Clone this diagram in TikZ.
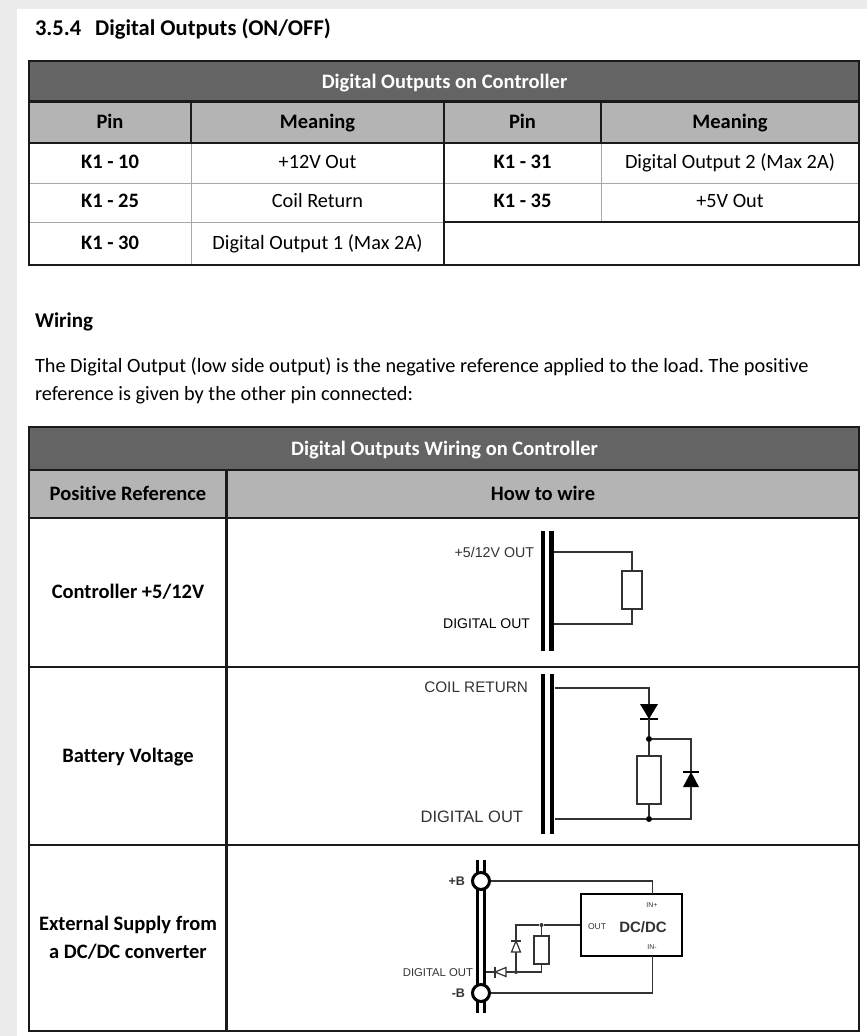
\documentclass[tikz,border=0pt]{standalone}
\usepackage{fontspec}
\setmainfont[Ligatures=NoCommon]{Carlito}
\newfontfamily\arl{Liberation Sans}
\definecolor{darkhead}{HTML}{646464}
\definecolor{lighthead}{HTML}{B4B4B4}
\definecolor{pagegray}{HTML}{ECECEC}
\definecolor{rule}{HTML}{1A1A1A}
\definecolor{thinrule}{HTML}{A8A8A8}
\definecolor{wire}{HTML}{333333}
\definecolor{lbl}{HTML}{333333}
\frenchspacing
\begin{document}
\begin{tikzpicture}[x=1pt,y=-1pt,
  tx/.style={inner sep=0pt,outer sep=0pt},
  body/.style={tx,font=\fontsize{20.3}{24}\selectfont},
  cell/.style={tx,font=\fontsize{20.3}{24}\selectfont},
  bcell/.style={tx,font=\fontsize{20.5}{24}\selectfont\bfseries},
  hcell/.style={tx,font=\fontsize{20.5}{24}\selectfont\bfseries,text=white},
  thick rule/.style={draw=rule,line width=2.3pt},
  thin rule/.style={draw=thinrule,line width=1pt},
  bar/.style={line width=4.4pt,draw=black},
  wr/.style={draw=wire,line width=1.3pt},
  res/.style={draw=wire,line width=1.4pt,fill=white},
  cl/.style={tx,text=lbl},
  dot/.style={circle,fill=black,inner sep=0pt,minimum size=6pt},
  sdot/.style={circle,fill=wire,inner sep=0pt,minimum size=4pt},
]
\useasboundingbox (0,0) rectangle (867,1036);
\fill[pagegray] (0,0) rectangle (867,1036);
\fill[white] (17,9) rectangle (867,1036);

% ---- title
\node[tx,anchor=base west,font=\fontsize{22.5}{27}\selectfont\bfseries] (title) at (35,35) {3.5.4\hspace{14pt}Digital Outputs (ON/OFF)};

% ---- table 1
\fill[darkhead] (29,61) rectangle (859,101.5);
\fill[lighthead] (29,101.5) rectangle (859,143);
\draw[thin rule] (191,143) -- (191,265);
\draw[thin rule] (601,143) -- (601,222);
\draw[thin rule] (29,183) -- (859,183);
\draw[thin rule] (29,222) -- (444,222);
\draw[thick rule] (444,222) -- (859,222);
\draw[thick rule] (444,101.5) -- (444,265);
\draw[thick rule] (191,101.5) -- (191,143);
\draw[thick rule] (601,101.5) -- (601,143);
\draw[thick rule] (29,101.5) -- (859,101.5);
\draw[thick rule] (29,143) -- (859,143);
\draw[thick rule] (29,61) rectangle (859,265);

\node[hcell,anchor=base] (t1h) at (444.5,88) {Digital Outputs on Controller};
\node[bcell,anchor=base] (t1p1) at (110,128.5) {Pin};
\node[bcell,anchor=base] (t1m1) at (317.5,128.5) {Meaning};
\node[bcell,anchor=base] (t1p2) at (522.5,128.5) {Pin};
\node[bcell,anchor=base] (t1m2) at (730,128.5) {Meaning};
\node[bcell,anchor=base] (k10) at (110,168.5) {K1 - 10};
\node[cell,anchor=base] (m10) at (317.5,168.5) {+12V Out};
\node[bcell,anchor=base] (k31) at (522.5,168.5) {K1 - 31};
\node[cell,anchor=base] (m31) at (730,168.5) {Digital Output 2 (Max 2A)};
\node[bcell,anchor=base] (k25) at (110,207.5) {K1 - 25};
\node[cell,anchor=base] (m25) at (317.5,207.5) {Coil Return};
\node[bcell,anchor=base] (k35) at (522.5,207.5) {K1 - 35};
\node[cell,anchor=base] (m35) at (730,207.5) {+5V Out};
\node[bcell,anchor=base] (k30) at (110,249.5) {K1 - 30};
\node[cell,anchor=base] (m30) at (317.5,249.5) {Digital Output 1 (Max 2A)};

% ---- wiring text
\node[tx,anchor=base west,font=\fontsize{21}{25}\selectfont\bfseries] (wiring) at (35,327) {Wiring};
\node[body,anchor=base west] (para1) at (35,372.5) {The Digital Output (low side output) is the negative reference applied to the load. The positive};
\node[body,anchor=base west] (para2) at (35,400.5) {reference is given by the other pin connected:};

% ---- table 2
\fill[darkhead] (29,427) rectangle (859,470);
\fill[lighthead] (29,470) rectangle (859,518);
\draw[thick rule] (29,470) -- (859,470);
\draw[thick rule] (29,518) -- (859,518);
\draw[thick rule] (29,667) -- (859,667);
\draw[thick rule] (29,845) -- (859,845);
\draw[thick rule] (226.5,470) -- (226.5,1031);
\draw[thick rule] (29,427) rectangle (859,1031);

\node[hcell,anchor=base] (t2h) at (444.5,455) {Digital Outputs Wiring on Controller};
\node[bcell,anchor=base] (t2a) at (128,500.5) {Positive Reference};
\node[bcell,anchor=base] (t2b) at (543,500.5) {How to wire};
\node[bcell,anchor=base] (r1) at (128,598.5) {Controller +5/12V};
\node[bcell,anchor=base] (r2) at (128,762.5) {Battery Voltage};
\node[bcell,anchor=base] (r3a) at (128,930.5) {External Supply from};
\node[bcell,anchor=base] (r3b) at (128,958.5) {a DC/DC converter};

% ---- circuit 1
\draw[bar] (542.8,531) -- (542.8,651);
\draw[bar] (551.6,531) -- (551.6,651);
\node[cl,anchor=base east,font=\arl\fontsize{14.2}{16}\selectfont] (l1a) at (534,557) {+5/12V OUT};
\node[cl,anchor=base east,font=\arl\fontsize{14}{16}\selectfont,text=black] (l1b) at (530,628.5) {DIGITAL OUT};
\coordinate (a1) at (554,552);
\coordinate (a2) at (632,552);
\coordinate (a3) at (632,624);
\coordinate (a4) at (554,624);
\node[res,minimum width=20pt,minimum height=38pt,inner sep=0pt,rectangle] (R1) at (632,590) {};
\draw[wr] (a1) -- (a2) -- (R1.north);
\draw[wr] (R1.south) -- (a3) -- (a4);

% ---- circuit 2
\draw[bar] (542.8,674) -- (542.8,834);
\draw[bar] (552,674) -- (552,834);
\node[cl,anchor=base east,font=\arl\fontsize{15.3}{18}\selectfont] (l2a) at (528,692.5) {COIL RETURN};
\node[cl,anchor=base east,font=\arl\fontsize{16.5}{19}\selectfont] (l2b) at (523,822) {DIGITAL OUT};
\coordinate (b1) at (554.5,688);
\coordinate (b2) at (649,688);
\coordinate (d1t) at (649,704);
\coordinate (d1b) at (649,719);
\node[dot] (j1) at (649,739) {};
\node[dot] (j2) at (649,819) {};
\coordinate (b3) at (691,739);
\coordinate (d2t) at (691,772);
\coordinate (d2b) at (691,787);
\coordinate (b4) at (691,819);
\coordinate (b5) at (554.5,819);
\node[res,minimum width=24pt,minimum height=48pt,inner sep=0pt,rectangle] (R2) at (649,780) {};
\draw[wr] (b1) -- (b2) -- (d1t);
\fill[black] (640,704) -- (658,704) -- (649,719) -- cycle;
\draw[black,line width=1.5pt] (640,719) -- (658,719);
\draw[wr] (d1b) -- (j1) -- (R2.north);
\draw[wr] (R2.south) -- (j2);
\draw[wr] (j1) -- (b3) -- (d2t);
\fill[black] (691,772) -- (683,787) -- (699,787) -- cycle;
\draw[black,line width=1.5pt] (683,772) -- (699,772);
\draw[wr] (d2b) -- (b4) -- (j2) -- (b5);

% ---- circuit 3
\draw[line width=2.8pt] (477.4,860) -- (477.4,1013);
\draw[line width=2.8pt] (484.4,860) -- (484.4,1013);
\node[circle,draw=black,line width=3pt,fill=white,minimum size=17pt,inner sep=0pt] (pB) at (481,881) {};
\node[circle,draw=black,line width=3pt,fill=white,minimum size=17pt,inner sep=0pt] (mB) at (481,993) {};
\node[cl,anchor=base east,font=\arl\bfseries\fontsize{12.5}{14}\selectfont] (lpB) at (465,885.5) {+B};
\node[cl,anchor=base east,font=\arl\bfseries\fontsize{12.5}{14}\selectfont] (lmB) at (465,997.5) {-B};
\node[cl,anchor=base east,font=\arl\fontsize{11.3}{13}\selectfont] (l3d) at (473,976) {DIGITAL OUT};
\node[draw=black,line width=2pt,minimum width=101pt,minimum height=62pt,inner sep=0pt,rectangle] (dcdc) at (631,925) {};
\node[cl,font=\arl\bfseries\fontsize{15}{17}\selectfont] (dctxt) at (643,927) {DC/DC};
\node[cl,font=\arl\fontsize{8.5}{10}\selectfont] (outtxt) at (597,927) {OUT};
\node[cl,font=\arl\fontsize{7}{8}\selectfont] (inp) at (652,905) {IN+};
\node[cl,font=\arl\fontsize{7}{8}\selectfont] (inm) at (652,947.5) {IN-};
\coordinate (c1) at (652.5,881);
\coordinate (c2) at (652.5,894);
\coordinate (c3) at (652.5,956);
\coordinate (c4) at (652.5,993);
\draw[wr] (pB.east) -- (c1) -- (c2);
\draw[wr] (c3) -- (c4) -- (mB.east);
\node[sdot] (j3) at (541.5,925) {};
\node[sdot] (j4) at (516,972) {};
\coordinate (c5) at (516,925);
\coordinate (d3t) at (516,941);
\coordinate (d3b) at (516,952);
\node[res,minimum width=15pt,minimum height=28pt,inner sep=0pt,rectangle,line width=1.2pt] (R3) at (541.5,950) {};
\coordinate (c6) at (541.5,972);
\draw[wr] (dcdc.west |- j3) -- (j3) -- (c5) -- (d3t);
\draw[wr] (j3) -- (R3.north);
\draw[wr] (R3.south) -- (c6) -- (j4);
\draw[wr] (d3b) -- (j4);
\draw[wire,line width=1.2pt,fill=white] (516,941) -- (511.5,952) -- (520.5,952) -- cycle;
\draw[wire,line width=1.4pt] (511,941) -- (521,941);
\coordinate (c7) at (485.8,972);
\coordinate (d4l) at (495,972);
\coordinate (d4r) at (506,972);
\draw[wr] (c7) -- (d4l);
\draw[wr] (d4r) -- (j4);
\draw[wire,line width=1.2pt,fill=white] (495,972) -- (506,967.5) -- (506,976.5) -- cycle;
\draw[wire,line width=1.4pt] (495,966.5) -- (495,977.5);
\end{tikzpicture}
\end{document}
